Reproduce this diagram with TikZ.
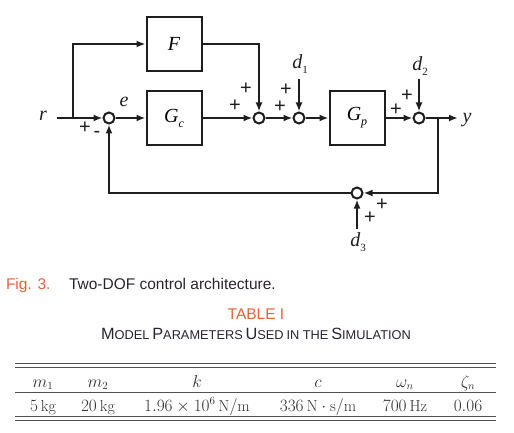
\documentclass[tikz,border=0pt]{standalone}
\usepackage{fontspec}
\usetikzlibrary{arrows.meta}
\newfontfamily\lserif{Liberation Serif}
\newfontfamily\lsans{Liberation Sans}
\definecolor{capor}{HTML}{E9603A}
\definecolor{captx}{HTML}{2A2232}
\definecolor{tabtx}{HTML}{303030}
\definecolor{tabrule}{HTML}{505050}
\definecolor{diag}{HTML}{1E1E1E}
\newcommand\lsub[1]{\raisebox{-5pt}{\fontsize{12}{12}\selectfont #1}}
\newcommand\lsubr[1]{\raisebox{-5pt}{\fontsize{11}{11}\selectfont\upshape #1}}
\newcommand\fsc[2]{{\fontsize{16.3}{16.3}\selectfont #1}{\fontsize{12.8}{12.8}\selectfont #2}}
\begin{document}
\begin{tikzpicture}[x=1pt,y=-1pt,
  line width=2pt,
  blk/.style={draw=diag,minimum width=55pt,minimum height=54pt,inner sep=0pt,
    font=\fontsize{20}{20}\lserif\itshape},
  sumj/.style={draw=diag,circle,minimum size=11pt,inner sep=0pt},
  arr/.style={draw=diag,-{Latex[length=9pt,width=7pt]}},
  lab/.style={font=\fontsize{20}{20}\lserif\itshape,inner sep=0pt,text=diag},
  sgn/.style={font=\fontsize{20}{20}\lsans,inner sep=0pt,text=diag},
  cell/.style={font=\fontsize{16}{16}\selectfont,text=tabtx,anchor=base,inner sep=0pt},
  trule/.style={line width=0.9pt,draw=tabrule}
]
\useasboundingbox (0,0) rectangle (514,433);

% blocks
\node[blk] (F)  at (174,44)  {F};
\node[blk] (Gc) at (174,118) {G\lsub{c}};
\node[blk] (Gp) at (357,118) {G\lsub{p}};
% summing junctions
\node[sumj] (s1) at (109,118) {};
\node[sumj] (s2) at (259,118) {};
\node[sumj] (s3) at (299,118) {};
\node[sumj] (s4) at (419,118) {};
\node[sumj] (s5) at (357,193) {};
% labels
\node[lab] (r)  at (43,116) {r};
\node[lab] (e)  at (124,102) {e};
\node[lab] (d1) at (300,64) {d\lsubr{1}};
\node[lab] (d2) at (420,66) {d\lsubr{2}};
\node[lab] (d3) at (358,242) {d\lsubr{3}};
\node[lab] (y)  at (467,120) {y};
% coordinates
\coordinate (rin) at (57,118);
\coordinate (br) at (73,118);
\coordinate (brF) at (73,44);
\coordinate (Fc) at (259,44);
\coordinate (d1s) at (299,79);
\coordinate (d2s) at (419,79);
\coordinate (d3s) at (357,229);
\coordinate (yout) at (458,118);
\coordinate (fb) at (438,118);
\coordinate (fbc) at (438,193);
\coordinate (fbl) at (109,193);
% connectors
\draw[arr] (rin) -- (s1);
\draw[arr] (br) -- (brF) -- (F);
\draw[arr] (F.east) -- (Fc) -- (s2);
\draw[arr] (s1) -- (Gc);
\draw[arr] (Gc) -- (s2);
\draw[arr] (s2) -- (s3);
\draw[arr] (d1s) -- (s3);
\draw[arr] (s3) -- (Gp);
\draw[arr] (Gp) -- (s4);
\draw[arr] (d2s) -- (s4);
\draw[arr] (s4) -- (yout);
\draw[arr] (fb) -- (fbc) -- (s5);
\draw[arr] (s5) -- (fbl) -- (s1);
\draw[arr] (d3s) -- (s5);
% signs
\node[sgn] (p1a) at (85,128) {+};
\node[sgn] (m1a) at (97,134) {-};
\node[sgn] (p2a) at (235,106) {+};
\node[sgn] (p2b) at (246,89) {+};
\node[sgn] (p3a) at (280,107) {+};
\node[sgn] (p3b) at (286,90) {+};
\node[sgn] (p4a) at (396,110) {+};
\node[sgn] (p4b) at (407,96) {+};
\node[sgn] (p5a) at (370,218) {+};
\node[sgn] (p5b) at (382,205) {+};

% captions
\node[anchor=base west,inner sep=0pt,font=\fontsize{15.5}{15.5}\lsans,text=capor] (fig) at (5,289) {Fig. 3.};
\node[anchor=base west,inner sep=0pt,font=\fontsize{15.5}{15.5}\lsans,text=captx] (figt) at (68,289) {Two-DOF control architecture.};
\node[anchor=base,inner sep=0pt,font=\fontsize{15.5}{15.5}\lsans,text=capor] (tabn) at (256,319) {TABLE I};
\node[anchor=base,inner sep=0pt,font=\lsans,text=captx] (tabt) at (256,339)
 {\fsc{M}{ODEL} \fsc{P}{ARAMETERS} \fsc{U}{SED} \fsc{}{IN THE} \fsc{S}{IMULATION}};

% table rules
\draw[trule] (15,363) -- (496,363);
\draw[trule] (15,367) -- (496,367);
\draw[trule] (15,392) -- (496,392);
\draw[trule] (15,416) -- (496,416);
\draw[trule] (15,420) -- (496,420);
% table cells
\node[cell] (h1) at (43,387)  {$m_1$};
\node[cell] (h2) at (98,387)  {$m_2$};
\node[cell] (h3) at (197,387) {$k$};
\node[cell] (h4) at (318,387) {$c$};
\node[cell] (h5) at (405,387) {$\omega_n$};
\node[cell] (h6) at (468,387) {$\zeta_n$};
\node[cell] (v1) at (43,411)  {$5\,\mathrm{kg}$};
\node[cell] (v2) at (98,411)  {$20\,\mathrm{kg}$};
\node[cell] (v3) at (197,411) {$1.96\times10^{6}\,\mathrm{N/m}$};
\node[cell] (v4) at (318,411) {$336\,\mathrm{N\cdot s/m}$};
\node[cell] (v5) at (405,411) {$700\,\mathrm{Hz}$};
\node[cell] (v6) at (468,411) {$0.06$};
\end{tikzpicture}
\end{document}
